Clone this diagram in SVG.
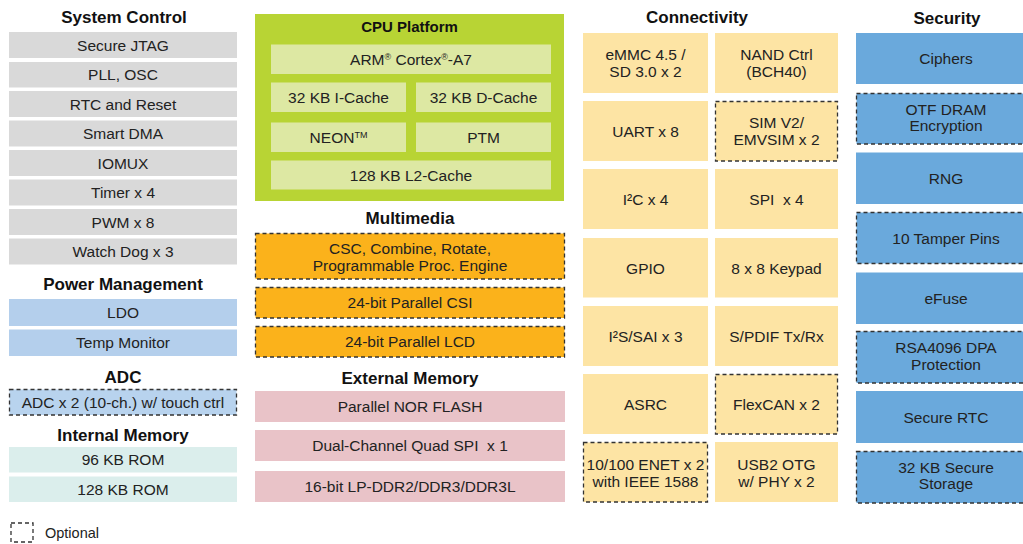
<svg xmlns="http://www.w3.org/2000/svg" width="1023" height="544" viewBox="0 0 1023 544">
<style>
text{font-family:"Liberation Sans",Arial,sans-serif;fill:#222;text-anchor:middle}
.t{font-size:15.5px}
.h{font-size:17px;font-weight:bold;fill:#111}
.dash{stroke:#333;stroke-width:1.3;stroke-dasharray:4 3}
.gray{fill:#d9d9d9}
.pm{fill:#b4cfec}
.adc{fill:#b8d3ee}
.im{fill:#dbeeec}
.cpu{fill:#b8d434}
.cin{fill:#dde8a3}
.mm{fill:#fbb21b}
.em{fill:#e9c3c8}
.cn{fill:#fde4a4}
.sec{fill:#6aa9dc}
.sup{font-size:9px}
</style>
<rect width="1023" height="544" fill="#fff"/>

<g id="system-control">
<text class="h" x="124" y="23">System Control</text>
<g id="sc-jtag"><rect class="gray" x="9" y="32" width="228" height="26"/><text class="t" x="123" y="50.5">Secure JTAG</text></g>
<g id="sc-pll"><rect class="gray" x="9" y="62" width="228" height="25.5"/><text class="t" x="123" y="80">PLL, OSC</text></g>
<g id="sc-rtc"><rect class="gray" x="9" y="91" width="228" height="26"/><text class="t" x="123" y="109.5">RTC and Reset</text></g>
<g id="sc-dma"><rect class="gray" x="9" y="120.5" width="228" height="26"/><text class="t" x="123" y="139">Smart DMA</text></g>
<g id="sc-iomux"><rect class="gray" x="9" y="150" width="228" height="26"/><text class="t" x="123" y="168.5">IOMUX</text></g>
<g id="sc-timer"><rect class="gray" x="9" y="179.5" width="228" height="26"/><text class="t" x="123" y="198">Timer x 4</text></g>
<g id="sc-pwm"><rect class="gray" x="9" y="209" width="228" height="26"/><text class="t" x="123" y="227.5">PWM x 8</text></g>
<g id="sc-wdog"><rect class="gray" x="9" y="238.5" width="228" height="26"/><text class="t" x="123" y="257">Watch Dog x 3</text></g>
</g>

<g id="power-management">
<text class="h" x="123" y="290">Power Management</text>
<g id="pm-ldo"><rect class="pm" x="9" y="299" width="228" height="27"/><text class="t" x="123" y="318">LDO</text></g>
<g id="pm-temp"><rect class="pm" x="9" y="329.5" width="228" height="26.5"/><text class="t" x="123" y="348">Temp Monitor</text></g>
</g>

<g id="adc">
<text class="h" x="123" y="383">ADC</text>
<g id="adc-box"><rect class="adc dash" x="9.5" y="389.5" width="227" height="25.5"/><text class="t" x="123" y="408">ADC x 2 (10-ch.) w/ touch ctrl</text></g>
</g>

<g id="internal-memory">
<text class="h" x="123" y="441">Internal Memory</text>
<g id="im-96"><rect class="im" x="9" y="447" width="228" height="25.5"/><text class="t" x="123" y="465">96 KB ROM</text></g>
<g id="im-128"><rect class="im" x="9" y="476.5" width="228" height="25.5"/><text class="t" x="123" y="494.5">128 KB ROM</text></g>
</g>

<g id="legend">
<rect class="dash" x="11" y="523" width="22" height="19" fill="none"/>
<text x="45" y="538" style="font-size:14.5px;text-anchor:start">Optional</text>
</g>

<g id="cpu-platform">
<rect class="cpu" x="255" y="14" width="309" height="187"/>
<text x="409.5" y="32" style="font-size:15px;font-weight:bold;fill:#111">CPU Platform</text>
<g id="cpu-arm"><rect class="cin" x="271" y="44.5" width="280" height="29.5"/><text class="t" x="411" y="64.5">ARM<tspan class="sup" dy="-5">®</tspan><tspan dy="5"> Cortex</tspan><tspan class="sup" dy="-5">®</tspan><tspan dy="5">-A7</tspan></text></g>
<g id="cpu-icache"><rect class="cin" x="271" y="82.5" width="135" height="29.5"/><text class="t" x="338.5" y="102.5">32 KB I-Cache</text></g>
<g id="cpu-dcache"><rect class="cin" x="416" y="82.5" width="135" height="29.5"/><text class="t" x="483.5" y="102.5">32 KB D-Cache</text></g>
<g id="cpu-neon"><rect class="cin" x="271" y="122.5" width="135" height="29.5"/><text class="t" x="338.5" y="142.5">NEON<tspan class="sup" dy="-5">TM</tspan></text></g>
<g id="cpu-ptm"><rect class="cin" x="416" y="122.5" width="135" height="29.5"/><text class="t" x="483.5" y="142.5">PTM</text></g>
<g id="cpu-l2"><rect class="cin" x="271" y="160.5" width="280" height="29"/><text class="t" x="411" y="180.5">128 KB L2-Cache</text></g>
</g>

<g id="multimedia">
<text class="h" x="410" y="224">Multimedia</text>
<g id="mm-csc"><rect class="mm dash" x="255.5" y="233.5" width="309" height="45.5"/><text class="t" x="410" y="254">CSC, Combine, Rotate,</text><text class="t" x="410" y="270.5">Programmable Proc. Engine</text></g>
<g id="mm-csi"><rect class="mm dash" x="255.5" y="287.5" width="309" height="30.5"/><text class="t" x="410" y="308">24-bit Parallel CSI</text></g>
<g id="mm-lcd"><rect class="mm dash" x="255.5" y="326.5" width="309" height="30.5"/><text class="t" x="410" y="347">24-bit Parallel LCD</text></g>
</g>

<g id="external-memory">
<text class="h" x="410" y="384">External Memory</text>
<g id="em-nor"><rect class="em" x="255" y="391" width="310" height="31"/><text class="t" x="410" y="412">Parallel NOR FLASH</text></g>
<g id="em-qspi"><rect class="em" x="255" y="430" width="310" height="31"/><text class="t" x="410" y="451" xml:space="preserve">Dual-Channel Quad SPI  x 1</text></g>
<g id="em-ddr"><rect class="em" x="255" y="471" width="310" height="31"/><text class="t" x="410" y="492">16-bit LP-DDR2/DDR3/DDR3L</text></g>
</g>

<g id="connectivity">
<text class="h" x="697" y="23">Connectivity</text>
<g id="cn-emmc"><rect class="cn" x="583" y="33" width="125" height="60"/><text class="t" x="645.5" y="60">eMMC 4.5 /</text><text class="t" x="645.5" y="77">SD 3.0 x 2</text></g>
<g id="cn-nand"><rect class="cn" x="715" y="33" width="123" height="60"/><text class="t" x="776.5" y="60">NAND Ctrl</text><text class="t" x="776.5" y="77">(BCH40)</text></g>
<g id="cn-uart"><rect class="cn" x="583" y="101" width="125" height="60"/><text class="t" x="645.5" y="136.5">UART x 8</text></g>
<g id="cn-sim"><rect class="cn dash" x="715.5" y="101.5" width="122" height="59.5"/><text class="t" x="776.5" y="128">SIM V2/</text><text class="t" x="776.5" y="145">EMVSIM x 2</text></g>
<g id="cn-i2c"><rect class="cn" x="583" y="169" width="125" height="60"/><text class="t" x="645.5" y="204.5">I²C x 4</text></g>
<g id="cn-spi"><rect class="cn" x="715" y="169" width="123" height="60"/><text class="t" x="776.5" y="204.5" xml:space="preserve">SPI  x 4</text></g>
<g id="cn-gpio"><rect class="cn" x="583" y="238" width="125" height="59.5"/><text class="t" x="645.5" y="273.5">GPIO</text></g>
<g id="cn-keypad"><rect class="cn" x="715" y="238" width="123" height="59.5"/><text class="t" x="776.5" y="273.5">8 x 8 Keypad</text></g>
<g id="cn-i2s"><rect class="cn" x="583" y="306" width="125" height="60"/><text class="t" x="645.5" y="341.5">I²S/SAI x 3</text></g>
<g id="cn-spdif"><rect class="cn" x="715" y="306" width="123" height="60"/><text class="t" x="776.5" y="341.5">S/PDIF Tx/Rx</text></g>
<g id="cn-asrc"><rect class="cn" x="583" y="374" width="125" height="60"/><text class="t" x="645.5" y="409.5">ASRC</text></g>
<g id="cn-flexcan"><rect class="cn dash" x="715.5" y="374.5" width="122" height="59.5"/><text class="t" x="776.5" y="409.5">FlexCAN x 2</text></g>
<g id="cn-enet"><rect class="cn dash" x="583.5" y="442.5" width="124" height="59.5"/><text class="t" x="645.5" y="469.5">10/100 ENET x 2</text><text class="t" x="645.5" y="486.5">with IEEE 1588</text></g>
<g id="cn-usb"><rect class="cn" x="715" y="442" width="123" height="60"/><text class="t" x="776.5" y="469.5">USB2 OTG</text><text class="t" x="776.5" y="486.5">w/ PHY x 2</text></g>
</g>

<g id="security">
<text class="h" x="947" y="24">Security</text>
<g id="sec-ciphers"><rect class="sec" x="856" y="33" width="180" height="51"/><text class="t" x="946" y="64">Ciphers</text></g>
<g id="sec-otf"><rect class="sec dash" x="856.5" y="93.5" width="180" height="50.5"/><text class="t" x="946" y="114.5">OTF DRAM</text><text class="t" x="946" y="131">Encryption</text></g>
<g id="sec-rng"><rect class="sec" x="856" y="152.5" width="180" height="51.5"/><text class="t" x="946" y="184">RNG</text></g>
<g id="sec-tamper"><rect class="sec dash" x="856.5" y="212.5" width="180" height="51"/><text class="t" x="946" y="243.5">10 Tamper Pins</text></g>
<g id="sec-efuse"><rect class="sec" x="856" y="272.5" width="180" height="51.5"/><text class="t" x="946" y="303.5">eFuse</text></g>
<g id="sec-rsa"><rect class="sec dash" x="856.5" y="331.5" width="180" height="51.5"/><text class="t" x="946" y="353">RSA4096 DPA</text><text class="t" x="946" y="369.5">Protection</text></g>
<g id="sec-rtc"><rect class="sec" x="856" y="391" width="180" height="52"/><text class="t" x="946" y="422.5">Secure RTC</text></g>
<g id="sec-storage"><rect class="sec dash" x="856.5" y="451.5" width="180" height="51.5"/><text class="t" x="946" y="472.5">32 KB Secure</text><text class="t" x="946" y="489">Storage</text></g>
</g>

<g id="connectors"></g>
</svg>
